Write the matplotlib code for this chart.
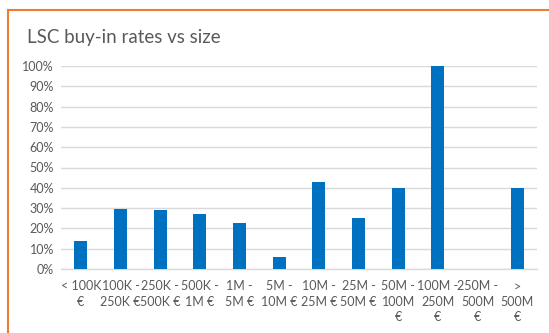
import numpy as np
import matplotlib
matplotlib.use('Agg')
import matplotlib.pyplot as plt
from matplotlib.lines import Line2D
from matplotlib.ticker import PercentFormatter

plt.rcParams['font.family'] = ['Lato', 'DejaVu Sans']

labels = ['< 100K\n€', '100K -\n250K €', '250K -\n500K €', '500K -\n1M €',
          '1M -\n5M €', '5M -\n10M €', '10M -\n25M €', '25M -\n50M €',
          '50M -\n100M\n€', '100M -\n250M\n€', '250M -\n500M\n€', '>\n500M\n€']
rates = [0.14, 0.295, 0.29, 0.27, 0.227, 0.06, 0.43, 0.25, 0.40, 1.00, 0.0, 0.40]

W, H = 549, 333
fig = plt.figure(figsize=(W / 100, H / 100), dpi=100)
fig.patch.set_facecolor('white')

# orange frame on the top and left edges
fig.add_artist(Line2D([7.5 / W, 7.5 / W], [0, 1 - 9.5 / H], color='#ED7D31', lw=1.5,
                      transform=fig.transFigure))
fig.add_artist(Line2D([7.5 / W, 1], [1 - 9.5 / H, 1 - 9.5 / H], color='#ED7D31', lw=1.5,
                      transform=fig.transFigure))

ax = fig.add_axes([61 / W, 1 - 269 / H, 476 / W, 203 / H])
x = np.arange(len(labels))
ax.bar(x, rates, width=0.33, color='#0070C0', zorder=3)

ax.set_xlim(-0.5, len(labels) - 0.5)
ax.set_ylim(0, 1)
ax.set_yticks(np.arange(0, 1.01, 0.1))
ax.yaxis.set_major_formatter(PercentFormatter(1.0, decimals=0))
ax.grid(axis='y', color='#D9D9D9', lw=1, zorder=0)
for s in ['top', 'right', 'left']:
    ax.spines[s].set_visible(False)
ax.spines['bottom'].set_color('#D9D9D9')
ax.spines['bottom'].set_linewidth(1)
ax.tick_params(length=0, colors='#595959', labelsize=9)
ax.tick_params(axis='y', pad=5)
ax.set_xticks(x)
ax.set_xticklabels(labels, linespacing=1.35)
ax.tick_params(axis='x', pad=8)

fig.text(27 / W, 1 - 37 / H, 'LSC buy-in rates vs size', fontsize=13.5, color='#595959',
         va='center', ha='left')

fig.savefig('out.png', dpi=100)
